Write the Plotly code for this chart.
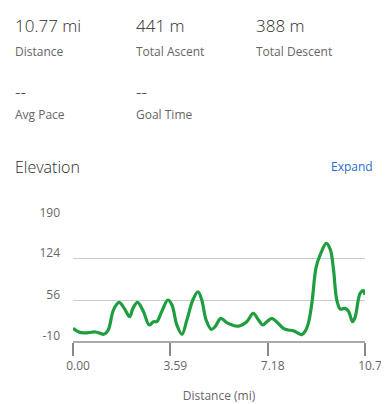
import plotly.graph_objects as go

# ---- data ----
distance_mi = [0.00, 0.21, 0.42, 0.82, 1.00, 1.14, 1.30, 1.49, 1.70, 1.89, 2.09, 2.21, 2.38,
               2.60, 2.81, 2.97, 3.09, 3.27, 3.50, 3.65, 3.83, 4.02, 4.20, 4.42, 4.61, 4.75,
               4.91, 5.10, 5.24, 5.45, 5.67, 5.98, 6.16, 6.41, 6.65, 6.84, 7.00, 7.15, 7.33,
               7.51, 7.76, 7.94, 8.13, 8.31, 8.44, 8.56, 8.68, 8.81, 8.97, 9.14, 9.34, 9.49,
               9.61, 9.73, 9.86, 10.04, 10.17, 10.31, 10.41, 10.59, 10.72, 10.77]
elevation_m = [10.5, 4.6, 3.0, 4.6, 2.4, 0.8, 7.8, 40.0, 52.5, 42.8, 29.3, 42.8, 52.5,
               37.4, 15.9, 21.2, 21.2, 37.4, 56.3, 48.2, 15.9, 0.8, 24.0, 56.3, 69.7, 56.3,
               24.0, 8.9, 13.1, 26.7, 19.6, 14.3, 14.8, 21.2, 34.7, 24.0, 15.9, 21.2, 26.7,
               21.2, 10.5, 7.8, 6.7, 2.4, 0.3, 5.6, 18.6, 50.8, 110.0, 131.8, 148.0, 138.0,
               104.8, 56.3, 41.7, 42.8, 37.4, 21.2, 29.3, 67.1, 71.4, 64.4]

x_tickvals = [0.0, 3.59, 7.18, 10.77]
x_ticktext = ["0.00", "3.59", "7.18", "10.7"]
y_tickvals = [-10, 56, 124, 190]
y_ticktext = ["-10", "56", "124", "190"]

stat_values = ["10.77 mi", "441 m", "388 m", "--", "--"]
stat_labels = ["Distance", "Total Ascent", "Total Descent", "Avg Pace", "Goal Time"]

# ---- geometry helpers (window pixel -> paper); page body has an 8px margin ----
OFF = 8
W, H = 389 - OFF, 404 - OFF
L, R, T, B = 73 - OFF, 365 - OFF, 217.3 - OFF, 341 - OFF
def px(x):
    return (x - OFF - L) / (R - L)
def py(y):
    return (B - (y - OFF)) / (B - T)

fig = go.Figure()
fig.add_trace(go.Scatter(
    x=distance_mi, y=elevation_m, mode="lines",
    line=dict(color="#1e9e3e", width=3.2, shape="spline", smoothing=1.0),
    hoverinfo="skip", showlegend=False, cliponaxis=False,
))

font = "Open Sans, Segoe UI, sans-serif"
ann = []
cols_x = [13, 134, 254, 13, 134]
val_y = [26, 26, 26, 92, 92]
lab_y = [52, 52, 52, 115, 115]
for i in range(5):
    ann.append(dict(text=stat_values[i], x=px(cols_x[i]), y=py(val_y[i]), xref="paper", yref="paper",
                    xanchor="left", yanchor="middle", showarrow=False,
                    font=dict(family=font, size=17, color="#2b2b2b", weight=300)))
    ann.append(dict(text=stat_labels[i], x=px(cols_x[i]), y=py(lab_y[i]), xref="paper", yref="paper",
                    xanchor="left", yanchor="middle", showarrow=False,
                    font=dict(family=font, size=12, color="#666666")))
ann.append(dict(text="Elevation", x=px(13), y=py(167), xref="paper", yref="paper",
                xanchor="left", yanchor="middle", showarrow=False,
                font=dict(family=font, size=16, color="#2b2b2b", weight=300)))
ann.append(dict(text="Expand", x=px(375), y=py(167), xref="paper", yref="paper",
                xanchor="right", yanchor="middle", showarrow=False,
                font=dict(family=font, size=12, color="#2a6ccf")))

fig.update_layout(
    width=W, height=H, autosize=False,
    margin=dict(l=L, r=W - R, t=T, b=H - B, pad=0),
    paper_bgcolor="white", plot_bgcolor="white",
    font=dict(family=font, size=12, color="#666666"),
    annotations=ann,
    xaxis=dict(range=[0, 10.77], tickvals=x_tickvals, ticktext=x_ticktext,
               showgrid=False, zeroline=False, showline=True, linecolor="#aaaaaa", linewidth=2,
               ticks="outside", ticklen=13, tickwidth=2, tickcolor="#888888",
               ticklabelshift=5, automargin=False,
               tickfont=dict(size=12, color="#666666"),
               title=dict(text="Distance (mi)", font=dict(size=12, color="#666666"), standoff=18),
               fixedrange=True),
    yaxis=dict(range=[-10, 190.6], tickvals=y_tickvals, ticktext=y_ticktext,
               showgrid=True, gridcolor="#cccccc", gridwidth=1, zeroline=False, showline=False,
               ticks="", ticklabelstandoff=12, ticklabelshift=-5, automargin=False,
               tickfont=dict(size=12, color="#666666"), fixedrange=True),
)

fig.write_html("out.html", config={"displayModeBar": False})
